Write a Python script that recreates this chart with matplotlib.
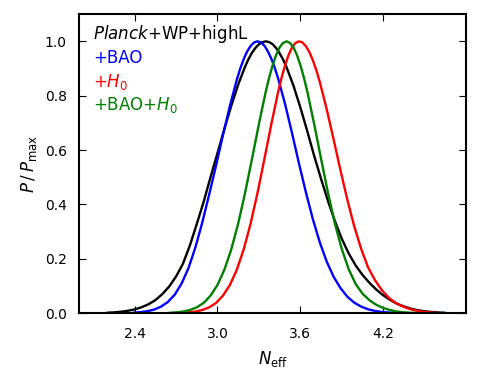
import matplotlib
matplotlib.use("Agg")
import matplotlib.pyplot as plt

plt.rcParams['mathtext.fontset'] = 'dejavusans'
plt.rcParams['font.family'] = ['DejaVu Sans']

# Planck+WP+highL (black)
x_planck = [2.20, 2.25, 2.30, 2.35, 2.40, 2.45, 2.50, 2.55, 2.60, 2.65, 2.70, 2.75, 2.80, 2.85, 2.90,
            2.95, 3.00, 3.05, 3.10, 3.15, 3.20, 3.225, 3.25, 3.275, 3.30, 3.325, 3.35, 3.375, 3.40, 3.425,
            3.45, 3.475, 3.50, 3.55, 3.60, 3.65,
            3.70, 3.75, 3.80, 3.85, 3.90, 3.95, 4.00, 4.05, 4.10, 4.15, 4.20, 4.25, 4.30, 4.35, 4.40,
            4.45, 4.50, 4.55, 4.60, 4.65]
y_planck = [0.0018, 0.0032, 0.0055, 0.0089, 0.014, 0.022, 0.033, 0.048, 0.070, 0.098, 0.135, 0.182, 0.249, 0.328, 0.410,
            0.501, 0.589, 0.678, 0.763, 0.841, 0.907, 0.935, 0.958, 0.976, 0.989, 0.997, 1.000, 0.997, 0.989, 0.975,
            0.956, 0.933, 0.905, 0.837, 0.757, 0.670,
            0.579, 0.494, 0.413, 0.339, 0.274, 0.220, 0.176, 0.141, 0.112, 0.087, 0.066, 0.049, 0.035, 0.025, 0.017,
            0.011, 0.0072, 0.0045, 0.0028, 0.0017]

# +BAO (blue)
x_bao = [2.39, 2.44, 2.49, 2.54, 2.59, 2.64, 2.69, 2.74, 2.79, 2.84, 2.89, 2.94, 2.99, 3.04, 3.09,
         3.14, 3.165, 3.19, 3.215, 3.24, 3.265, 3.29, 3.315, 3.34, 3.365, 3.39, 3.415, 3.44, 3.49, 3.54,
         3.59, 3.64, 3.69, 3.74, 3.79, 3.84,
         3.89, 3.94, 3.99, 4.04, 4.09, 4.14, 4.19, 4.24, 4.29]
y_bao = [0.0020, 0.0039, 0.0073, 0.0132, 0.024, 0.041, 0.068, 0.109, 0.166, 0.242, 0.334, 0.437, 0.544, 0.656, 0.763,
         0.859, 0.900, 0.935, 0.963, 0.983, 0.996, 1.000, 0.996, 0.984, 0.963, 0.936, 0.902, 0.862, 0.768, 0.662,
         0.551, 0.445, 0.347, 0.262, 0.191, 0.135,
         0.093, 0.061, 0.039, 0.0245, 0.0145, 0.0085, 0.0047, 0.0026, 0.0014]

# +H0 (red)
x_h0 = [2.74, 2.79, 2.84, 2.89, 2.94, 2.99, 3.04, 3.09, 3.14, 3.19, 3.24, 3.29, 3.34, 3.39, 3.44,
        3.465, 3.49, 3.515, 3.54, 3.565, 3.59, 3.615, 3.64, 3.665, 3.69, 3.715, 3.74, 3.79, 3.84, 3.89,
        3.94, 3.99, 4.04, 4.09, 4.14, 4.19,
        4.24, 4.29, 4.34, 4.39, 4.44, 4.49, 4.54, 4.59]
y_h0 = [0.0015, 0.0031, 0.0062, 0.0119, 0.0217, 0.038, 0.065, 0.104, 0.160, 0.235, 0.330, 0.443, 0.568, 0.696, 0.816,
        0.868, 0.913, 0.950, 0.978, 0.994, 1.000, 0.996, 0.982, 0.961, 0.931, 0.895, 0.852, 0.752, 0.641, 0.527,
        0.418, 0.320, 0.237, 0.169, 0.122, 0.085,
        0.057, 0.038, 0.025, 0.0159, 0.0093, 0.0053, 0.0029, 0.0015]

# +BAO+H0 (green)
x_baoh0 = [2.65, 2.70, 2.75, 2.80, 2.85, 2.90, 2.95, 3.00, 3.05, 3.10, 3.15, 3.20, 3.25, 3.30, 3.35,
           3.375, 3.40, 3.425, 3.45, 3.475, 3.50, 3.525, 3.55, 3.575, 3.60, 3.625, 3.65, 3.70, 3.75, 3.80,
           3.85, 3.90, 3.95, 4.00, 4.05, 4.10,
           4.15, 4.20, 4.25, 4.30, 4.35, 4.40, 4.45]
y_baoh0 = [0.0015, 0.0031, 0.0062, 0.0119, 0.0217, 0.038, 0.065, 0.104, 0.160, 0.235, 0.330, 0.443, 0.568, 0.696, 0.816,
           0.868, 0.913, 0.950, 0.978, 0.994, 1.000, 0.994, 0.978, 0.950, 0.913, 0.868, 0.816, 0.696, 0.568, 0.443,
           0.330, 0.236, 0.162, 0.108, 0.072, 0.048,
           0.031, 0.0195, 0.0115, 0.0063, 0.0033, 0.0016, 0.0007]

x_ticks = [2.4, 3.0, 3.6, 4.2]
y_ticks = [0.0, 0.2, 0.4, 0.6, 0.8, 1.0]

labels = [r'$\mathit{Planck}$+WP+highL', '+BAO', r'+$H_0$', r'+BAO+$H_0$']
colors = ['black', '#0000ff', '#ff0000', '#008000']

fig = plt.figure(figsize=(4.81, 3.82), dpi=100)
ax = fig.add_axes([0.165, 0.180, 0.804, 0.783])

for xs, ys_, c in [(x_planck, y_planck, colors[0]), (x_bao, y_bao, colors[1]),
                   (x_h0, y_h0, colors[2]), (x_baoh0, y_baoh0, colors[3])]:
    ax.plot(xs, ys_, color=c, lw=1.7, solid_joinstyle='round', solid_capstyle='round')

ax.set_xlim(2.0, 4.8)
ax.set_ylim(0.0, 1.1)
ax.set_xticks(x_ticks)
ax.set_xticklabels([f'{v:.1f}' for v in x_ticks])
ax.set_yticks(y_ticks)
ax.set_yticklabels([f'{v:.1f}' for v in y_ticks])
ax.tick_params(direction='in', top=True, right=True, length=5, width=0.8, labelsize=10)
ax.tick_params(axis='x', pad=10)
ax.tick_params(axis='y', pad=9)
for s in ax.spines.values():
    s.set_linewidth(1.5)

ax.set_xlabel(r'$N_{\rm eff}$', fontsize=12, labelpad=6)
ax.set_ylabel(r'$P\,/\,P_{\rm max}$', fontsize=12, labelpad=4)

ys = [0.9165, 0.835, 0.755, 0.679]
for lab, c, yy in zip(labels, colors, ys):
    ax.text(0.036, yy, lab, color=c, fontsize=12, transform=ax.transAxes, va='baseline', ha='left')

fig.savefig('out.png', dpi=100)
